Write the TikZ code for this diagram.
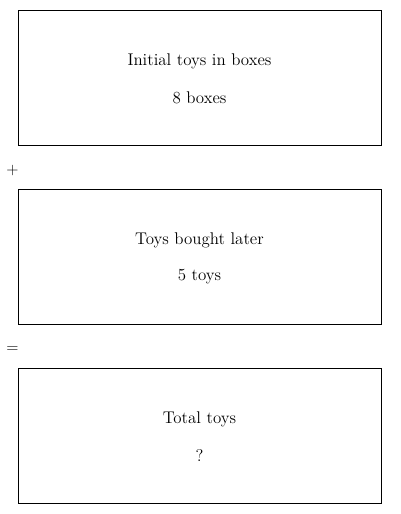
\documentclass[tikz,border=0pt]{standalone}
\usetikzlibrary{positioning}

\begin{document}
\begin{tikzpicture}[x=0.75pt,y=-0.75pt,
    font=\fontsize{12.7}{15}\selectfont,
    toybox/.style={draw, line width=0.75pt, minimum width=272.25pt, minimum height=101.25pt},
    sign/.style={font=\fontsize{12}{14}\selectfont}]
    \useasboundingbox (0,0) rectangle (400,514);
    \node[toybox] (initial) at (199.5,77.5) {};
    \node (initialtitle) at (199.5,61) {Initial toys in boxes};
    \node (initialvalue) at (199.5,98) {8 boxes};
    \node[sign] (plus) at (12.5,170.5) {+};
    \node[toybox] (bought) at (199.5,256.5) {};
    \node (boughttitle) at (199.5,240) {Toys bought later};
    \node (boughtvalue) at (199.5,277) {5 toys};
    \node[sign] (equals) at (12.5,349.5) {=};
    \node[toybox] (total) at (199.5,435.5) {};
    \node (totaltitle) at (199.5,419) {Total toys};
    \node (totalvalue) at (199.5,456) {?};
\end{tikzpicture}
\end{document}
